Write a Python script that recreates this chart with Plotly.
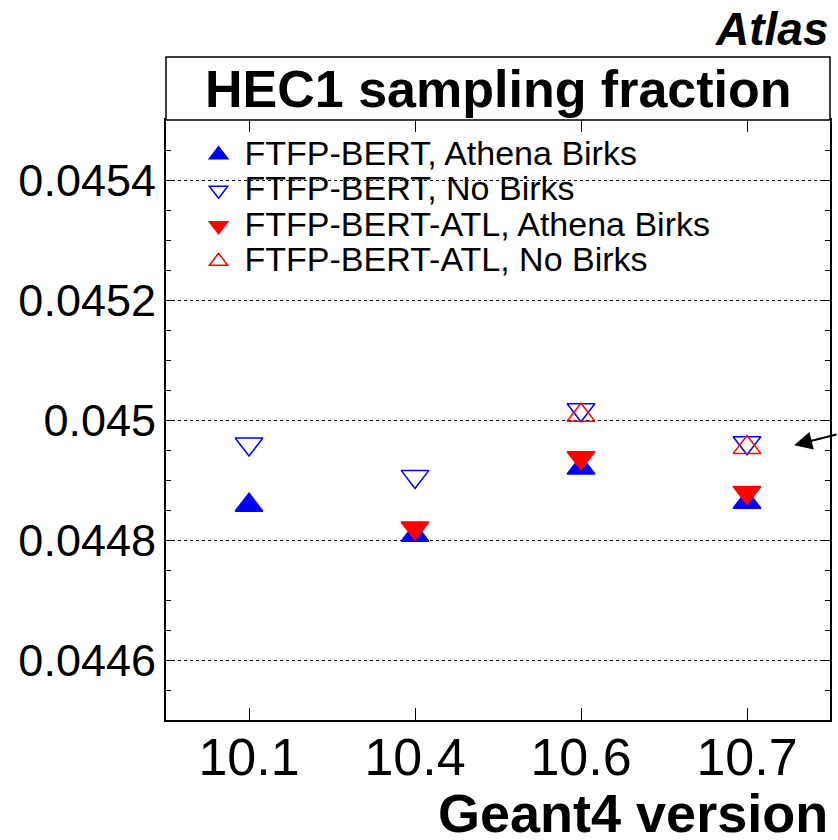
import plotly.graph_objects as go

# Geant4 versions on the x axis
versions = ["10.1", "10.4", "10.6", "10.7"]

# HEC1 sampling fraction per physics list / Birks setting
ftfp_bert_athena = [0.044858, 0.044808, 0.044920, 0.044863]
ftfp_bert_nobirks = [0.044960, 0.044906, 0.045017, 0.044962]
ftfp_bert_atl_athena = [None, 0.044820, 0.044937, 0.044879]
ftfp_bert_atl_nobirks = [None, None, 0.045008, 0.044954]

series_names = [
    "FTFP-BERT, Athena Birks",
    "FTFP-BERT, No Birks",
    "FTFP-BERT-ATL, Athena Birks",
    "FTFP-BERT-ATL, No Birks",
]

y_tick_values = [0.0446, 0.0448, 0.045, 0.0452, 0.0454]
y_tick_labels = ["0.0446", "0.0448", "0.045", "0.0452", "0.0454"]

FONT = "Liberation Sans, Arial, Helvetica, sans-serif"
BLUE = "#0000ff"
RED = "#ff0000"
MSIZE = 24

styles = [
    (ftfp_bert_athena, "triangle-up", BLUE),
    (ftfp_bert_nobirks, "triangle-down-open", BLUE),
    (ftfp_bert_atl_athena, "triangle-down", RED),
    (ftfp_bert_atl_nobirks, "triangle-up-open", RED),
]

fig = go.Figure()
for (vals, sym, col), name in zip(styles, series_names):
    fig.add_trace(go.Scatter(
        x=versions, y=vals, mode="markers",
        name=f'<span style="font-size:34px">{name}</span>',
        marker=dict(symbol=sym, size=MSIZE, color=col,
                    line=dict(color=col, width=1.5)),
    ))

fig.update_layout(
    width=838, height=840,
    margin=dict(l=166, r=6, t=120, b=120),
    paper_bgcolor="white", plot_bgcolor="white",
    font=dict(family=FONT, color="black"),
    showlegend=True,
    legend=dict(
        x=0.04, y=0.98, xanchor="left", yanchor="top",
        bgcolor="rgba(0,0,0,0)", borderwidth=0,
        font=dict(size=25, family=FONT),
        itemwidth=42, tracegroupgap=0,
    ),
    xaxis=dict(
        type="category", range=[-0.5, 3.5],
        showline=True, linecolor="black", linewidth=2, mirror="ticks",
        ticks="inside", ticklen=12, tickwidth=1, tickcolor="black",
        showgrid=False, zeroline=False,
        tickfont=dict(size=52, family=FONT),
        ticklabelstandoff=-9,
    ),
    yaxis=dict(
        range=[0.0445, 0.0455],
        tickmode="array", tickvals=y_tick_values, ticktext=y_tick_labels,
        showline=True, linecolor="black", linewidth=2, mirror="ticks",
        ticks="inside", ticklen=8, tickwidth=1, tickcolor="black",
        minor=dict(tickmode="linear", tick0=0.0446, dtick=0.00005,
                   ticks="inside", ticklen=5, tickcolor="black", showgrid=False),
        showgrid=True, gridcolor="black", gridwidth=1, griddash="dot",
        zeroline=False,
        tickfont=dict(size=45, family=FONT),
        ticklabelstandoff=-1,
    ),
)

# title box above the frame
fig.add_shape(type="rect", xref="paper", yref="paper",
              x0=0, x1=1, y0=1, y1=1.105,
              line=dict(color="black", width=1.5), fillcolor="white")

fig.add_annotation(text="<b>HEC1 sampling fraction</b>", xref="paper", yref="paper",
                   x=0.5, y=1.0525, xanchor="center", yanchor="middle",
                   showarrow=False, font=dict(size=52, family=FONT))

fig.add_annotation(text="<b><i>Atlas</i></b>", xref="paper", yref="paper",
                   x=1.0, y=1.152, xanchor="right", yanchor="middle",
                   showarrow=False, font=dict(size=46, family=FONT))

fig.add_annotation(text="<b>Geant4 version</b>", xref="paper", yref="paper",
                   x=1.0, y=-0.155, xanchor="right", yanchor="middle",
                   showarrow=False, font=dict(size=54, family=FONT))

# pointer arrow coming in from the right edge
fig.add_annotation(text="", x=3.284, y=0.044958, xref="x", yref="y",
                   showarrow=True, ax=62, ay=-11, axref="pixel", ayref="pixel",
                   arrowhead=2, arrowsize=1.8, arrowwidth=2, arrowcolor="black",
                   standoff=0)

fig.write_html("out.html")
